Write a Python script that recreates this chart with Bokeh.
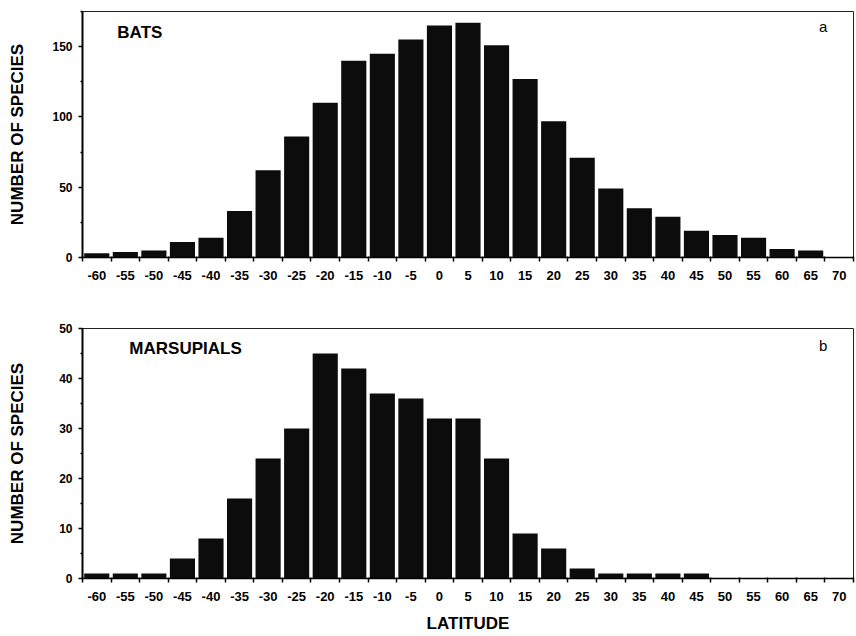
from bokeh.plotting import figure
from bokeh.models import FixedTicker, Label, Range1d, ColumnDataSource
from bokeh.layouts import column
from bokeh.embed import file_html
from bokeh.resources import INLINE

latitudes = list(range(-60, 75, 5))
tick_labels = [str(v) for v in latitudes]
bats = [3, 4, 5, 11, 14, 33, 62, 86, 110, 140, 145, 155, 165, 167, 151,
        127, 97, 71, 49, 35, 29, 19, 16, 14, 6, 5, 0]
marsupials = [1, 1, 1, 4, 8, 16, 24, 30, 45, 42, 37, 36, 32, 32, 24,
              9, 6, 2, 1, 1, 1, 1, 0, 0, 0, 0, 0]
bats_yticks = [0, 50, 100, 150]
bats_yminor = [25, 75, 125, 175]
mars_yticks = [0, 10, 20, 30, 40, 50]
mars_yminor = [5, 15, 25, 35, 45]

FONT = "Liberation Sans"
W = 856
BAR_COLOR = "#0c0c0c"


def panel(values, ymax, yticks, yminor, height, border_top, border_bottom,
          ylab_standoff, name, name_x, name_y, letter, letter_y):
    p = figure(width=W, height=height, output_backend="svg", toolbar_location=None,
               x_range=Range1d(latitudes[0] - 2.5, latitudes[-1] + 2.5),
               y_range=Range1d(0, ymax),
               min_border_left=82, min_border_right=3,
               min_border_top=border_top, min_border_bottom=border_bottom)
    src = ColumnDataSource(dict(x=latitudes, top=values))
    p.vbar(x="x", top="top", bottom=0, width=4.4, source=src,
           fill_color=BAR_COLOR, line_color=None)
    p.grid.visible = False
    p.outline_line_color = "#222222"
    p.outline_line_width = 1
    p.background_fill_color = "white"
    p.border_fill_color = "white"

    xa = p.xaxis[0]
    edges = [v - 2.5 for v in latitudes] + [latitudes[-1] + 2.5]
    xa.ticker = FixedTicker(ticks=latitudes, minor_ticks=edges)
    xa.major_label_overrides = {v: s for v, s in zip(latitudes, tick_labels)}
    xa.major_tick_out = 0
    xa.major_tick_in = 0
    xa.minor_tick_out = 4
    xa.minor_tick_in = 1
    xa.minor_tick_line_width = 1.5
    xa.axis_line_width = 1.5
    xa.axis_line_color = "black"
    xa.major_label_standoff = 9
    xa.major_label_text_font = FONT
    xa.major_label_text_font_style = "bold"
    xa.major_label_text_font_size = "13px"
    xa.major_label_text_color = "black"

    ya = p.yaxis[0]
    ya.ticker = FixedTicker(ticks=yticks, minor_ticks=yminor)
    ya.major_tick_out = 4
    ya.major_tick_in = 0
    ya.minor_tick_out = 2
    ya.minor_tick_in = 0
    ya.major_tick_line_width = 1.5
    ya.minor_tick_line_width = 1.5
    ya.axis_line_width = 2
    ya.axis_line_color = "black"
    ya.major_label_standoff = 6
    ya.major_label_text_font = FONT
    ya.major_label_text_font_style = "bold"
    ya.major_label_text_font_size = "12px"
    ya.major_label_text_color = "black"
    ya.axis_label = "NUMBER OF SPECIES"
    ya.axis_label_text_font = FONT
    ya.axis_label_text_font_style = "bold"
    ya.axis_label_text_font_size = "17px"
    ya.axis_label_text_color = "black"
    ya.axis_label_standoff = ylab_standoff

    p.add_layout(Label(x=name_x, y=name_y, text=name, text_font=FONT,
                       text_font_style="bold", text_font_size="17px",
                       text_color="black", text_baseline="top", text_align="left"))
    p.add_layout(Label(x=67.9, y=letter_y, text=letter, text_font=FONT,
                       text_font_size="15px", text_color="black",
                       text_baseline="alphabetic", text_align="right"))
    return p


p1 = panel(bats, 175, bats_yticks, bats_yminor, 300, 11, 43, 22,
           "BATS", -56.4, 167, "a", 164)
p2 = panel(marsupials, 50, mars_yticks, mars_yminor, 336, 28, 58, 29,
           "MARSUPIALS", -54.3, 47.9, "b", 46.6)
xb = p2.xaxis[0]
xb.axis_label = "LATITUDE"
xb.axis_label_text_font = FONT
xb.axis_label_text_font_style = "bold"
xb.axis_label_text_font_size = "17px"
xb.axis_label_text_color = "black"
xb.axis_label_standoff = 10

layout = column(p1, p2, spacing=0)
open("out.html", "w").write(file_html(layout, INLINE))
